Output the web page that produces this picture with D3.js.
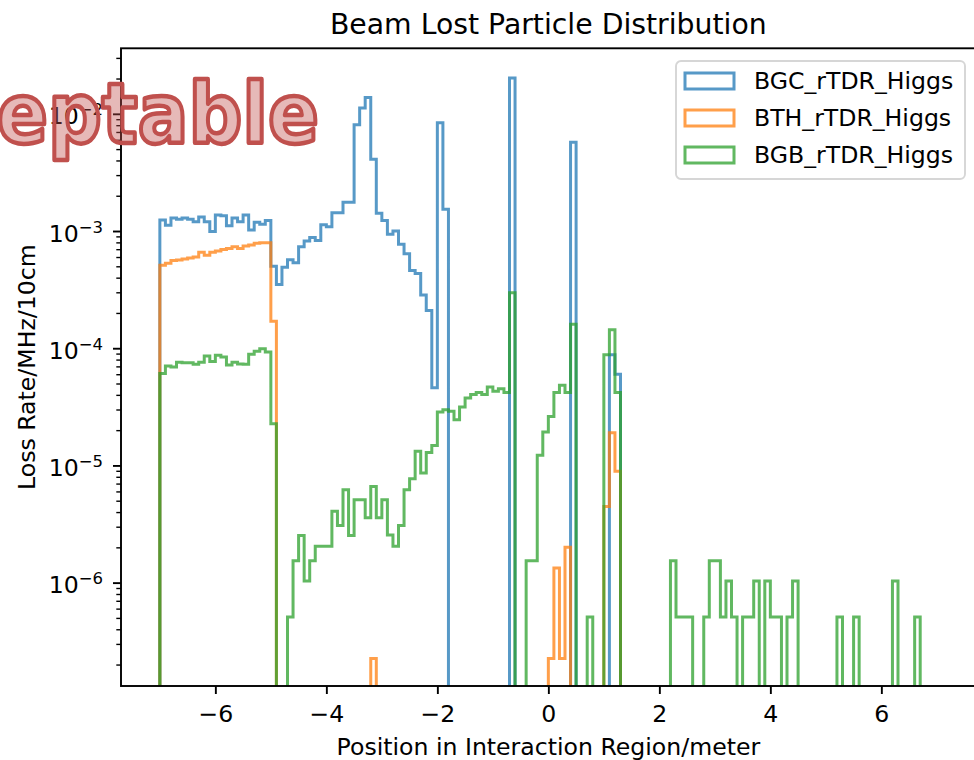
<!DOCTYPE html>
<html>
<head>
<meta charset="utf-8">
<script src="https://cdn.jsdelivr.net/npm/d3@7/dist/d3.min.js"></script>
<style>
body { margin: 0; background: #fff; }
text { font-family: "DejaVu Sans", sans-serif; }
</style>
</head>
<body>
<div id="chart"></div>
<script>
// 10 cm bins from -7 m to +7 m
var binStart = -7;
var binWidth = 0.1;
var nBins = 140;

var seriesNames = ["BGC_rTDR_Higgs", "BTH_rTDR_Higgs", "BGB_rTDR_Higgs"];
var seriesColors = ["#1f77b4", "#ff7f0e", "#2ca02c"];

var xTicks = [-6, -4, -2, 0, 2, 4, 6];
var yTicks = [1e-6, 1e-5, 1e-4, 1e-3, 1e-2];
var yTickExp = ["−6", "−5", "−4", "−3", "−2"];

// loss rate per bin, one row = 10 bins (1 m)
var bgc = [
    1.24e-3, 1.12e-3, 1.29e-3, 1.26e-3, 1.29e-3, 1.26e-3, 1.20e-3, 1.32e-3, 1.20e-3, 0.99e-3,
    1.37e-3, 1.35e-3, 1.11e-3, 1.29e-3, 1.20e-3, 1.37e-3, 1.02e-3, 1.19e-3, 1.14e-3, 1.23e-3,
    5.0e-4, 3.5e-4, 4.9e-4, 5.7e-4, 5.37e-4, 7.34e-4, 8.2e-4, 8.8e-4, 8.3e-4, 1.13e-3,
    1.09e-3, 1.43e-3, 1.43e-3, 1.76e-3, 1.76e-3, 8.05e-3, 1.12e-2, 1.38e-2, 4.1e-3, 1.42e-3,
    1.23e-3, 9.4e-4, 1.0e-3, 7.7e-4, 6.4e-4, 4.6e-4, 4.35e-4, 2.84e-4, 2.1e-4, 4.6e-5,
    8.4e-3, 1.53e-3, 0, 0, 0, 0, 0, 0, 0, 0,
    0, 0, 0, 2.02e-2, 0, 0, 0, 0, 0, 0,
    0, 0, 0, 0, 5.73e-3, 0, 0, 0, 0, 0,
    0, 8.8e-5, 6.0e-5, 0, 0, 0, 0, 0, 0, 0,
    0, 0, 0, 0, 0, 0, 0, 0, 0, 0,
    0, 0, 0, 0, 0, 0, 0, 0, 0, 0,
    0, 0, 0, 0, 0, 0, 0, 0, 0, 0,
    0, 0, 0, 0, 0, 0, 0, 0, 0, 0,
    0, 0, 0, 0, 0, 0, 0, 0, 0, 0
];

var bth = [
    5.1e-4, 5.3e-4, 5.6e-4, 5.65e-4, 5.77e-4, 5.9e-4, 6.0e-4, 6.6e-4, 6.2e-4, 6.6e-4,
    6.75e-4, 6.97e-4, 7.1e-4, 7.34e-4, 7.1e-4, 7.44e-4, 7.6e-4, 7.85e-4, 7.95e-4, 7.95e-4,
    1.7e-4, 0, 0, 0, 0, 0, 0, 0, 0, 0,
    0, 0, 0, 0, 0, 0, 0, 0, 2.25e-7, 0,
    0, 0, 0, 0, 0, 0, 0, 0, 0, 0,
    0, 0, 0, 0, 0, 0, 0, 0, 0, 0,
    0, 0, 0, 0, 0, 0, 0, 0, 0, 0,
    2.25e-7, 1.33e-6, 2.25e-7, 2.0e-6, 0, 0, 0, 0, 0, 0,
    4.47e-6, 1.9e-5, 8.9e-6, 0, 0, 0, 0, 0, 0, 0,
    0, 0, 0, 0, 0, 0, 0, 0, 0, 0,
    0, 0, 0, 0, 0, 0, 0, 0, 0, 0,
    0, 0, 0, 0, 0, 0, 0, 0, 0, 0,
    0, 0, 0, 0, 0, 0, 0, 0, 0, 0,
    0, 0, 0, 0, 0, 0, 0, 0, 0, 0
];

var bgb = [
    6.1e-5, 7.06e-5, 6.9e-5, 7.6e-5, 7.5e-5, 7.5e-5, 7.3e-5, 7.6e-5, 8.6e-5, 7.7e-5,
    8.7e-5, 8.4e-5, 7.2e-5, 7.6e-5, 7.35e-5, 7.3e-5, 8.9e-5, 9.4e-5, 9.9e-5, 9.3e-5,
    2.27e-5, 0, 0, 5.1e-7, 1.54e-6, 2.52e-6, 1.03e-6, 1.54e-6, 2.04e-6, 2.04e-6,
    2.04e-6, 4.07e-6, 3.07e-6, 6.2e-6, 2.52e-6, 5.09e-6, 5.09e-6, 3.57e-6, 6.62e-6, 3.57e-6,
    5.09e-6, 2.55e-6, 2.04e-6, 3.07e-6, 6.2e-6, 7.7e-6, 1.32e-5, 8.6e-6, 1.29e-5, 1.48e-5,
    2.85e-5, 2.99e-5, 2.9e-5, 2.45e-5, 3.15e-5, 3.76e-5, 4.02e-5, 4.2e-5, 4.02e-5, 4.67e-5,
    4.3e-5, 4.5e-5, 4.2e-5, 2.97e-4, 0, 0, 1.54e-6, 1.54e-6, 1.22e-5, 1.93e-5,
    2.62e-5, 4.2e-5, 4.83e-5, 4.2e-5, 1.6e-4, 0, 0, 5.1e-7, 0, 0,
    8.8e-5, 1.44e-4, 4.2e-5, 0, 0, 0, 0, 0, 0, 0,
    0, 0, 1.54e-6, 5.1e-7, 5.1e-7, 5.1e-7, 0, 0, 5.1e-7, 1.54e-6,
    1.54e-6, 5.1e-7, 1.03e-6, 5.1e-7, 0, 5.1e-7, 5.1e-7, 1.03e-6, 0, 1.03e-6,
    5.1e-7, 5.1e-7, 0, 5.1e-7, 1.03e-6, 0, 0, 0, 0, 0,
    0, 0, 5.1e-7, 0, 0, 5.1e-7, 0, 0, 0, 0,
    0, 0, 1.03e-6, 0, 0, 0, 5.1e-7, 0, 0, 0
];

var allSeries = [bgc, bth, bgb];

var width = 974;
var height = 760;
var plotLeft = 121, plotRight = 975.7, plotTop = 48.3, plotBottom = 686;
var fontSize = 23.6;

var x = d3.scaleLinear()
    .domain([-7.7, 7.7])
    .range([plotLeft, plotRight]);

var y = d3.scaleLog()
    .domain([Math.pow(10, -6.882), Math.pow(10, -1.441)])
    .range([plotBottom, plotTop]);

var svg = d3.select('#chart')
    .append('svg')
    .attr('width', width)
    .attr('height', height)
    .style('display', 'block');

svg.append('rect')
    .attr('width', width)
    .attr('height', height)
    .attr('fill', '#fff');

svg.append('clipPath')
    .attr('id', 'plotclip')
    .append('rect')
    .attr('x', plotLeft)
    .attr('y', plotTop)
    .attr('width', plotRight - plotLeft)
    .attr('height', plotBottom - plotTop);

// step outline of a histogram, zero bins drop below the axis
function stepPoints(values) {
    var low = plotBottom + 10;
    var pts = [[x(binStart), low]];
    values.forEach(function (v, i) {
        var x0 = binStart + i * binWidth;
        var yy = v > 0 ? y(v) : low;
        pts.push([x(x0), yy]);
        pts.push([x(x0 + binWidth), yy]);
    });
    pts.push([x(binStart + nBins * binWidth), low]);
    return pts;
}

var line = d3.line();

svg.append('g')
    .attr('clip-path', 'url(#plotclip)')
    .selectAll('path')
    .data(allSeries)
    .enter()
    .append('path')
    .attr('d', function (d) { return line(stepPoints(d)); })
    .attr('fill', 'none')
    .attr('stroke', function (d, i) { return seriesColors[i]; })
    .attr('stroke-opacity', 0.75)
    .attr('stroke-width', 3)
    .attr('stroke-linejoin', 'miter');

// x axis
var xAxis = d3.axisBottom(x)
    .tickValues(xTicks)
    .tickSize(8)
    .tickPadding(11)
    .tickFormat(function (d) { return d < 0 ? '−' + Math.abs(d) : d; });

var gx = svg.append('g')
    .attr('transform', 'translate(0,' + plotBottom + ')')
    .call(xAxis);
gx.select('.domain').remove();
gx.selectAll('line').attr('stroke', '#000').attr('stroke-width', 1.9);
gx.selectAll('text').attr('font-size', fontSize).attr('font-family', 'DejaVu Sans').attr('fill', '#000');

// y axis, minor ticks first
var minorTicks = [];
for (var e = -7; e <= -2; e++) {
    for (var m = 2; m <= 9; m++) {
        var v = m * Math.pow(10, e);
        if (v >= y.domain()[0] && v <= y.domain()[1]) minorTicks.push(v);
    }
}

var gyMinor = svg.append('g')
    .attr('transform', 'translate(' + plotLeft + ',0)')
    .call(d3.axisLeft(y).tickValues(minorTicks).tickSize(4.7).tickFormat(''));
gyMinor.select('.domain').remove();
gyMinor.selectAll('line').attr('stroke', '#000').attr('stroke-width', 1.4);

var gy = svg.append('g')
    .attr('transform', 'translate(' + plotLeft + ',0)')
    .call(d3.axisLeft(y).tickValues(yTicks).tickSize(8).tickPadding(10));
gy.select('.domain').remove();
gy.selectAll('line').attr('stroke', '#000').attr('stroke-width', 1.9);
gy.selectAll('text')
    .attr('font-size', fontSize)
    .attr('font-family', 'DejaVu Sans')
    .attr('fill', '#000')
    .attr('dy', 10)
    .text(null)
    .each(function (d, i) {
        var t = d3.select(this);
        t.append('tspan').text('10');
        t.append('tspan')
            .attr('font-size', 16.5)
            .attr('dy', -9)
            .text(yTickExp[i]);
    });

// spines
svg.append('rect')
    .attr('x', plotLeft)
    .attr('y', plotTop)
    .attr('width', plotRight - plotLeft)
    .attr('height', plotBottom - plotTop)
    .attr('fill', 'none')
    .attr('stroke', '#000')
    .attr('stroke-width', 1.9);

// labels
svg.append('text')
    .attr('x', (plotLeft + plotRight) / 2)
    .attr('y', 34)
    .attr('text-anchor', 'middle')
    .attr('font-size', 28.3)
    .attr('fill', '#000')
    .text('Beam Lost Particle Distribution');

svg.append('text')
    .attr('x', (plotLeft + plotRight) / 2)
    .attr('y', 755)
    .attr('text-anchor', 'middle')
    .attr('font-size', fontSize)
    .attr('fill', '#000')
    .text('Position in Interaction Region/meter');

svg.append('text')
    .attr('transform', 'translate(35,' + ((plotTop + plotBottom) / 2) + ') rotate(-90)')
    .attr('text-anchor', 'middle')
    .attr('font-size', fontSize)
    .attr('fill', '#000')
    .text('Loss Rate/MHz/10cm');

// legend
var legendG = svg.append('g')
    .attr('transform', 'translate(676,61)');

legendG.append('rect')
    .attr('width', 289)
    .attr('height', 118)
    .attr('rx', 5)
    .attr('fill', '#fff')
    .attr('fill-opacity', 0.8)
    .attr('stroke', '#d6d6d6')
    .attr('stroke-width', 1.9);

var legendItem = legendG.selectAll('.legend')
    .data(seriesNames)
    .enter()
    .append('g')
    .attr('class', 'legend')
    .attr('transform', function (d, i) {
        return 'translate(0,' + (i * 37) + ')';
    });

legendItem.append('rect')
    .attr('x', 9)
    .attr('y', 12)
    .attr('width', 49)
    .attr('height', 16)
    .attr('fill', 'none')
    .attr('stroke', function (d, i) { return seriesColors[i]; })
    .attr('stroke-opacity', 0.75)
    .attr('stroke-width', 3);

legendItem.append('text')
    .attr('x', 78)
    .attr('y', 28)
    .attr('font-size', fontSize)
    .attr('fill', '#000')
    .text(function (d) { return d; });

// stamp over the top left corner
svg.append('text')
    .attr('x', -3)
    .attr('y', 143)
    .attr('font-family', '"Open Sans", sans-serif')
    .attr('font-weight', 700)
    .attr('font-size', 84)
    .attr('textLength', 322)
    .attr('lengthAdjust', 'spacingAndGlyphs')
    .attr('fill', '#c0504d')
    .attr('fill-opacity', 0.4)
    .attr('stroke', '#c0504d')
    .attr('stroke-width', 4.5)
    .attr('stroke-linejoin', 'round')
    .text('eptable');
</script>
</body>
</html>
